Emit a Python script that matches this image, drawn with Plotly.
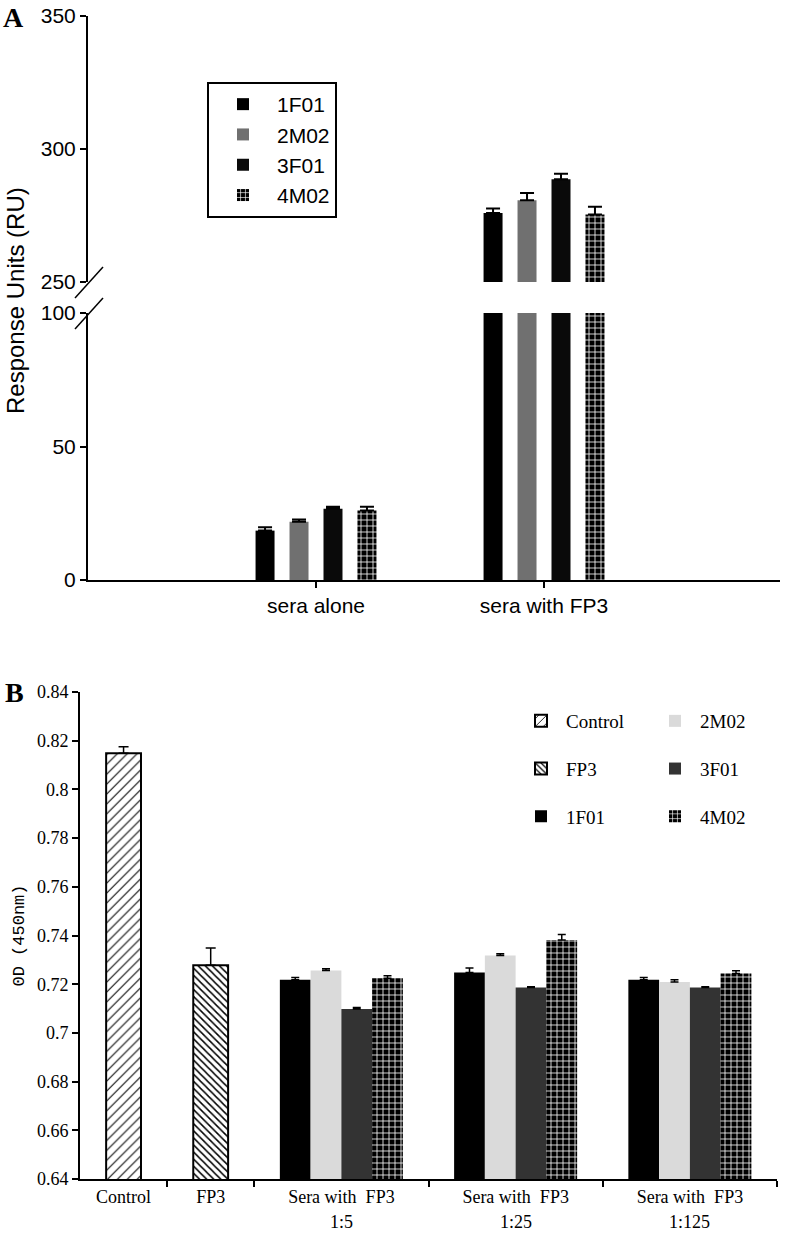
import plotly.graph_objects as go

W, H = 793, 1235
SANS = "Liberation Sans, Arial, sans-serif"
SERIF = "Liberation Serif, Times New Roman, serif"
MONO = "Liberation Mono, Courier New, monospace"

# ---------------- Panel A data ----------------
a_groups = ["sera alone", "sera with FP3"]
a_series = ["1F01", "2M02", "3F01", "4M02"]
a_values = {
    "1F01": [18.5, 275.9],
    "2M02": [21.8, 280.7],
    "3F01": [26.7, 288.6],
    "4M02": [26.0, 275.4],
}
a_errors = {
    "1F01": [1.3, 1.7],
    "2M02": [0.9, 2.8],
    "3F01": [0.7, 2.1],
    "4M02": [1.4, 2.9],
}
a_lower_ticks = [0, 50, 100]
a_upper_ticks = [250, 300, 350]

# ---------------- Panel B data ----------------
b_categories = ["Control", "FP3", "Sera with\u00a0 FP3", "Sera with\u00a0 FP3", "Sera with\u00a0 FP3"]
b_dilutions = ["1:5", "1:25", "1:125"]
b_slot_units = [1, 1, 2, 2, 2]
b_control = [0.8148]
b_control_err = [0.0027]
b_fp3 = [0.7278]
b_fp3_err = [0.0071]
b_series = ["1F01", "2M02", "3F01", "4M02"]
b_values = {
    "1F01": [0.7218, 0.7248, 0.7218],
    "2M02": [0.7256, 0.7318, 0.7209],
    "3F01": [0.7098, 0.7186, 0.7186],
    "4M02": [0.7224, 0.7382, 0.7244],
}
b_errors = {
    "1F01": [0.0010, 0.0019, 0.0010],
    "2M02": [0.0007, 0.0007, 0.0009],
    "3F01": [0.0006, 0.0004, 0.0004],
    "4M02": [0.0011, 0.0022, 0.0011],
}
b_yticks = [0.64, 0.66, 0.68, 0.70, 0.72, 0.74, 0.76, 0.78, 0.80, 0.82, 0.84]

# ---------------- styles ----------------
a_style = {
    "1F01": dict(color="#000000"),
    "2M02": dict(color="#707070"),
    "3F01": dict(color="#0a0a0a"),
    "4M02": dict(color="#000000", pattern=dict(shape="+", fgcolor="white", bgcolor="black", size=6, solidity=0.25)),
}
b_style = {
    "1F01": dict(color="#000000"),
    "2M02": dict(color="#dadada"),
    "3F01": dict(color="#333333"),
    "4M02": dict(color="#000000", pattern=dict(shape="+", fgcolor="white", bgcolor="black", size=6, solidity=0.25)),
}

fig = go.Figure()

# Panel A bars (lower and upper segment of the broken axis)
a_w = 0.0833
a_slot = 0.149
for i, s in enumerate(a_series):
    off = (i - 1.5) * a_slot - a_w / 2
    for yax, show in (("y", True), ("y2", False)):
        fig.add_trace(go.Bar(
            x=a_groups, y=a_values[s], name=s, xaxis="x", yaxis=yax,
            width=a_w, offset=off, showlegend=show, legend="legend",
            marker=dict(line=dict(width=0), **a_style[s]),
            error_y=dict(type="data", array=a_errors[s], arrayminus=[0] * len(a_groups),
                         symmetric=False, color="black", thickness=2, width=7),
        ))

# Panel B positions from slot widths
edges = [0]
for u in b_slot_units:
    edges.append(edges[-1] + u)
centers = [(edges[k] + edges[k + 1]) / 2 for k in range(len(b_slot_units))]

cw = 0.40
fig.add_trace(go.Bar(
    x=[centers[0]], y=b_control, name="Control", xaxis="x3", yaxis="y3",
    width=cw, offset=-cw / 2, legend="legend2", legendgroup="g1",
    marker=dict(color="white", line=dict(color="black", width=2),
                pattern=dict(shape="/", fgcolor="black", bgcolor="white", size=7, solidity=0.15)),
    error_y=dict(type="data", array=b_control_err, arrayminus=[0], symmetric=False,
                 color="black", thickness=1.5, width=5),
))
fig.add_trace(go.Bar(
    x=[centers[1]], y=b_fp3, name="FP3", xaxis="x3", yaxis="y3",
    width=cw, offset=-cw / 2, legend="legend2", legendgroup="g2",
    marker=dict(color="white", line=dict(color="black", width=2),
                pattern=dict(shape="\\", fgcolor="black", bgcolor="white", size=5, solidity=0.3)),
    error_y=dict(type="data", array=b_fp3_err, arrayminus=[0], symmetric=False,
                 color="black", thickness=1.5, width=5),
))
bw = 0.353
for i, s in enumerate(b_series):
    fig.add_trace(go.Bar(
        x=centers[2:], y=b_values[s], name=s, xaxis="x3", yaxis="y3",
        width=bw, offset=(i - 2) * bw,
        legend="legend2" if s == "1F01" else "legend3", legendgroup="h" + s,
        marker=dict(line=dict(width=0), **b_style[s]),
        error_y=dict(type="data", array=b_errors[s], arrayminus=[0] * 3, symmetric=False,
                     color="black", thickness=1.5, width=4),
    ))

axis_common = dict(showline=True, linecolor="black", linewidth=2, ticks="outside",
                   ticklen=6, tickwidth=2, tickcolor="black", showgrid=False, zeroline=False,
                   automargin=False)

fig.update_layout(
    template="none",
    width=W, height=H, margin=dict(l=0, r=0, t=0, b=0, pad=0, autoexpand=False),
    paper_bgcolor="white", plot_bgcolor="white", barmode="overlay",
    font=dict(family=SANS, color="black"),
    xaxis=dict(domain=[88 / W, 780 / W], type="category", categoryorder="array",
               categoryarray=a_groups, range=[-1, 2.035], anchor="y",
               tickfont=dict(family=SANS, size=21, color="black"), **axis_common),
    yaxis=dict(domain=[(H - 580) / H, (H - 313) / H], range=[0, 100], tickvals=a_lower_ticks,
               anchor="x", tickfont=dict(family=SANS, size=21, color="black"), **axis_common),
    yaxis2=dict(domain=[(H - 282) / H, (H - 16) / H], range=[250, 350], tickvals=a_upper_ticks,
                anchor="x", tickfont=dict(family=SANS, size=21, color="black"), **axis_common),
    xaxis3=dict(domain=[80 / W, 777 / W], range=[0, edges[-1]], anchor="y3",
                tickmode="array", tickvals=centers, ticktext=b_categories, automargin=False,
                showline=True, linecolor="black", linewidth=2, ticks="", showgrid=False, zeroline=False,
                minor=dict(tickmode="array", tickvals=edges[1:], ticks="outside", ticklen=6,
                           tickwidth=1.5, tickcolor="black", showgrid=False),
                tickfont=dict(family=SERIF, size=18, color="black")),
    yaxis3=dict(domain=[(H - 1179) / H, (H - 692) / H], range=[0.64, 0.84], tickvals=b_yticks,
                anchor="x3", showline=True, linecolor="black", linewidth=2, ticks="outside",
                ticklen=6, tickwidth=1.5, tickcolor="black", showgrid=False, zeroline=False,
                automargin=False,
                tickfont=dict(family=SERIF, size=18, color="black"),
                title=dict(text="0D (450nm)", font=dict(family=MONO, size=17, color="black"), standoff=8)),
    legend=dict(x=207 / W, y=1 - 82 / H, xanchor="left", yanchor="top", bgcolor="white",
                bordercolor="black", borderwidth=2, font=dict(family=SANS, size=21, color="black"),
                traceorder="normal", itemwidth=58),
    legend2=dict(x=516 / W, y=1 - 702 / H, xanchor="left", yanchor="top", bgcolor="rgba(0,0,0,0)",
                 font=dict(family=SERIF, size=19, color="black"), traceorder="grouped",
                 tracegroupgap=20, itemwidth=40),
    legend3=dict(x=650 / W, y=1 - 702 / H, xanchor="left", yanchor="top", bgcolor="rgba(0,0,0,0)",
                 font=dict(family=SERIF, size=19, color="black"), traceorder="grouped",
                 tracegroupgap=20, itemwidth=40),
)

annotations = [
    dict(text="<b>A</b>", x=13 / W, y=1 - 18 / H, xref="paper", yref="paper", showarrow=False,
         xanchor="center", yanchor="middle", font=dict(family=SERIF, size=28, color="black")),
    dict(text="<b>B</b>", x=14 / W, y=1 - 692 / H, xref="paper", yref="paper", showarrow=False,
         xanchor="center", yanchor="middle", font=dict(family=SERIF, size=28, color="black")),
    dict(text="Response Units (RU)", x=15 / W, y=1 - 301 / H, xref="paper", yref="paper",
         showarrow=False, textangle=-90, xanchor="center", yanchor="middle",
         font=dict(family=SANS, size=24, color="black")),
]
for c, d in zip(centers[2:], b_dilutions):
    annotations.append(dict(text=d, x=c, y=2 / H, xref="x3", yref="paper", showarrow=False,
                            xanchor="center", yanchor="bottom", borderpad=0,
                            font=dict(family=SERIF, size=18, color="black")))
fig.update_layout(annotations=annotations)

# axis-break marks
for y0, y1 in ((298, 267), (329, 298)):
    fig.add_shape(type="line", xref="paper", yref="paper", x0=75 / W, x1=103 / W,
                  y0=1 - y0 / H, y1=1 - y1 / H, line=dict(color="black", width=1.5))

fig.write_html("out.html", config={"displayModeBar": False},
               post_script="document.body.style.margin='0px';")
